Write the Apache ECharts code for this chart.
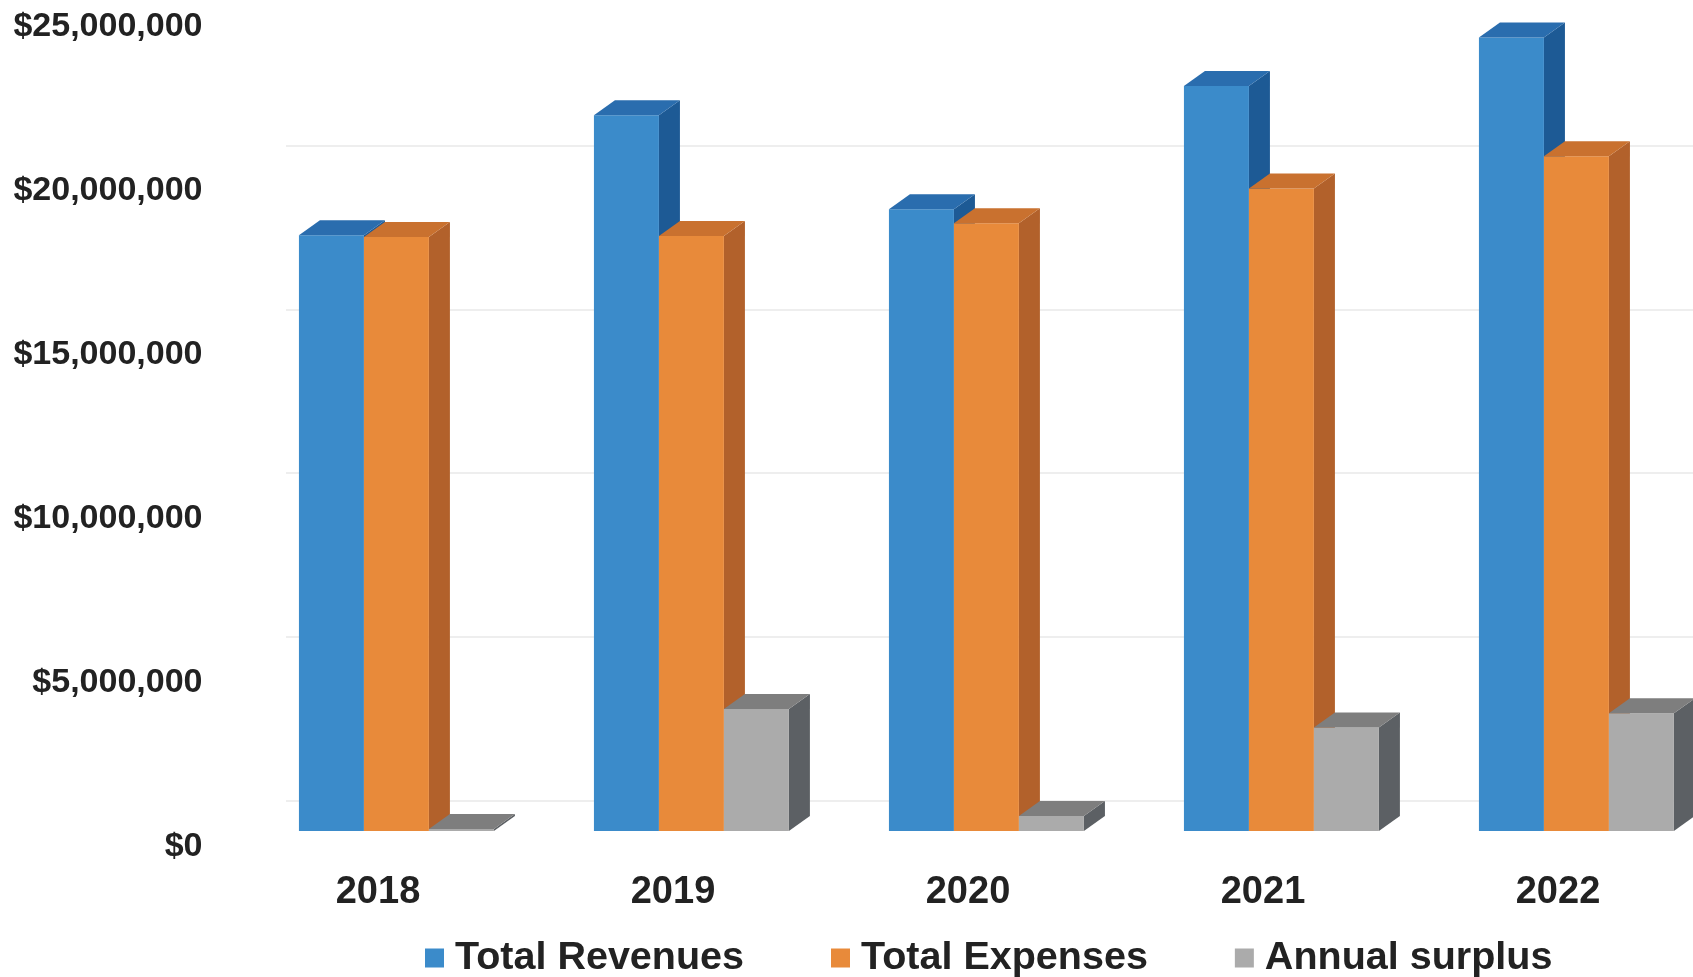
<!DOCTYPE html>
<html>
<head>
<meta charset="utf-8">
<script src="https://cdn.jsdelivr.net/npm/echarts@6/dist/echarts.min.js"></script>
<style>
html,body{margin:0;padding:0;background:#fff;}
#chart{width:1693px;height:977px;}
</style>
</head>
<body>
<div id="chart"></div>
<script>
const categories = ['2018', '2019', '2020', '2021', '2022'];
const totalRevenues = [18180000, 21840000, 18970000, 22730000, 24210000];
const totalExpenses = [18120000, 18150000, 18540000, 19600000, 20590000];
const annualSurplus = [60000, 3720000, 460000, 3160000, 3590000];
const seriesNames = ['Total Revenues', 'Total Expenses', 'Annual surplus'];
const yMin = 0, yMax = 25000000, yStep = 5000000;

const FONT = "'Liberation Sans', Arial, Helvetica, sans-serif";
const palettes = [
  {front: '#3B8BCA', top: '#2A6DAE', side: '#1D5A95'},
  {front: '#E88A3A', top: '#C9712F', side: '#B2612B'},
  {front: '#ABABAB', top: '#7E7E7E', side: '#5C6064'}
];

function makeRender(si) {
  const pal = palettes[si];
  return function (params, api) {
    const ci = api.value(0), v = api.value(1);
    const base = api.coord([ci, 0]);
    const topP = api.coord([ci, v]);
    const band = api.size([1, 0])[0];
    const bw = band * 0.2203;
    const x0 = base[0] - band * 0.268 + si * bw;
    const lift = 15.5, dx = band * 0.0712, dy = 15;
    const yb = base[1] - lift, yt = topP[1] - lift;
    return {
      type: 'group',
      children: [
        {type: 'polygon', shape: {points: [[x0 + bw, yt], [x0 + bw + dx, yt - dy], [x0 + bw + dx, yb - dy], [x0 + bw, yb]]}, style: {fill: pal.side}},
        {type: 'rect', shape: {x: x0, y: yt, width: bw, height: Math.max(yb - yt, 0)}, style: {fill: pal.front}},
        {type: 'polygon', shape: {points: [[x0, yt], [x0 + dx, yt - dy], [x0 + bw + dx, yt - dy], [x0 + bw, yt]]}, style: {fill: pal.top}}
      ]
    };
  };
}

const dataSets = [totalRevenues, totalExpenses, annualSurplus];
const series = dataSets.map((arr, si) => ({
  type: 'custom',
  name: seriesNames[si],
  xAxisIndex: 0,
  yAxisIndex: 0,
  itemStyle: {color: palettes[si].front},
  renderItem: makeRender(si),
  encode: {x: 0, y: 1},
  data: arr.map((v, i) => [i, v])
}));

const chart = echarts.init(document.getElementById('chart'), null, {renderer: 'canvas'});
chart.setOption({
  animation: false,
  backgroundColor: '#ffffff',
  textStyle: {fontFamily: FONT},
  legend: {
    data: seriesNames,
    left: 425,
    top: 938,
    padding: 0,
    itemGap: 87,
    icon: 'rect',
    itemWidth: 19,
    itemHeight: 19,
    textStyle: {fontSize: 39.5, fontWeight: 'bold', color: '#222', fontFamily: FONT, lineHeight: 39, padding: [0, 0, 0, 6]}
  },
  grid: [
    {left: 230.5, width: 1475, top: 27.1, bottom: 130.5, outerBoundsMode: 'none', containLabel: false},
    {left: 286, right: 0, top: -18.4, bottom: 176, outerBoundsMode: 'none', containLabel: false}
  ],
  xAxis: [
    {
      type: 'category', gridIndex: 0, data: categories,
      axisLine: {show: false}, axisTick: {show: false},
      axisLabel: {fontSize: 38, fontWeight: 'bold', color: '#222', fontFamily: FONT, margin: 27.5, lineHeight: 38}
    },
    {type: 'category', gridIndex: 1, data: categories, show: false}
  ],
  yAxis: [
    {
      type: 'value', gridIndex: 0, min: yMin, max: yMax, interval: yStep,
      axisLine: {show: false}, axisTick: {show: false}, splitLine: {show: false},
      axisLabel: {
        fontSize: 34, fontWeight: 'bold', color: '#222', fontFamily: FONT, margin: 28,
        formatter: v => '$' + v.toLocaleString('en-US')
      }
    },
    {
      type: 'value', gridIndex: 1, min: yMin, max: yMax, interval: yStep,
      axisLine: {show: false}, axisTick: {show: false}, axisLabel: {show: false},
      splitLine: {show: true, lineStyle: {color: '#e8e8e8', width: 1.5}}
    }
  ],
  series: series
});
</script>
</body>
</html>
